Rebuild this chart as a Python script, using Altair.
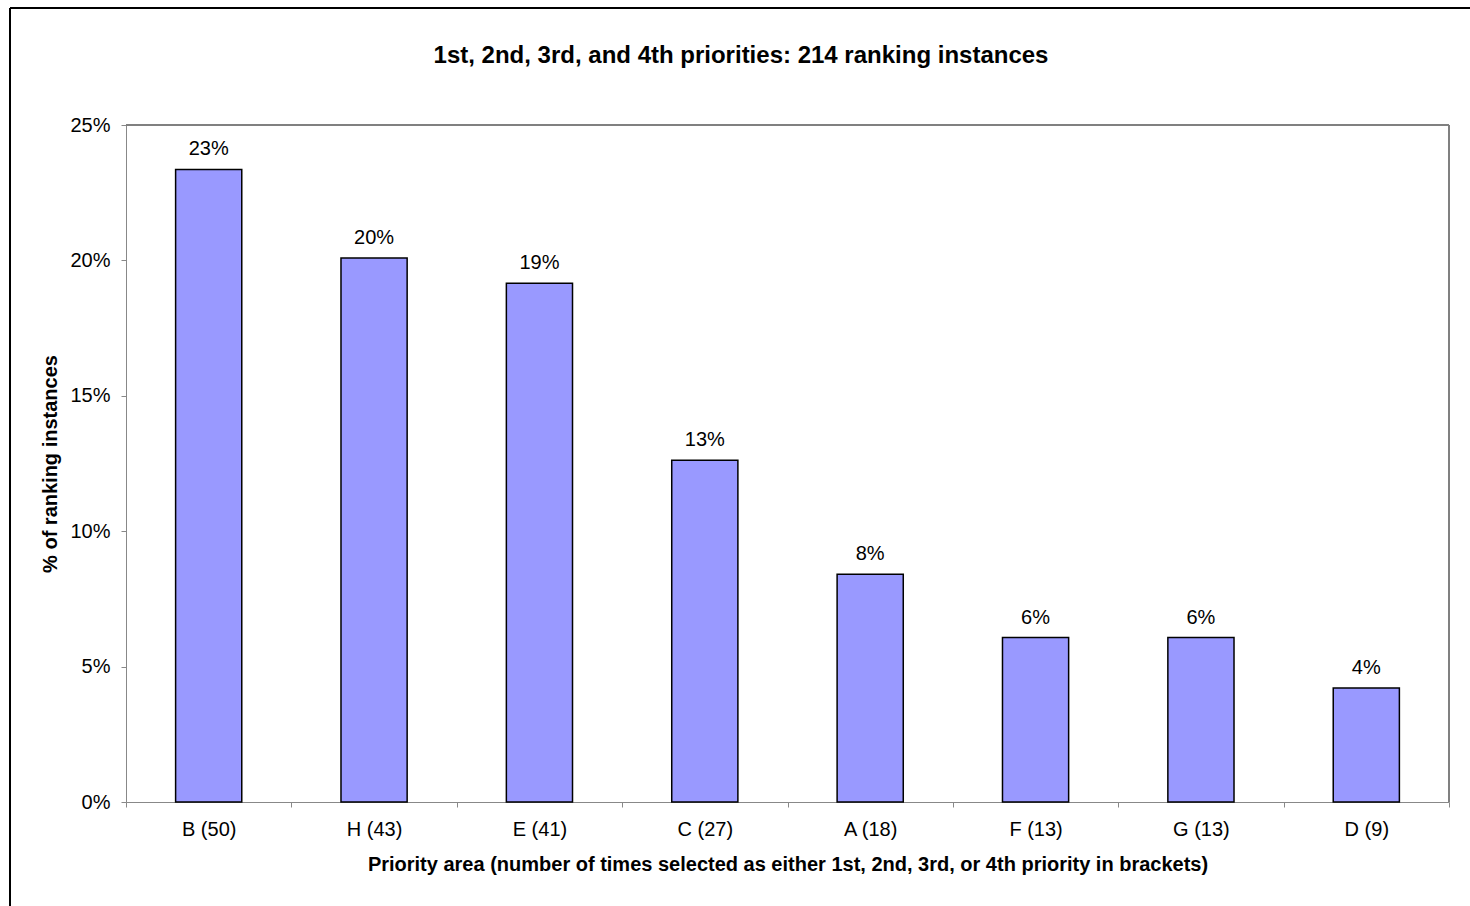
import altair as alt
import pandas as pd

# Priority areas, in ranked order, with counts shown in brackets
categories = ["B (50)", "H (43)", "E (41)", "C (27)", "A (18)", "F (13)", "G (13)", "D (9)"]
# Share of the 214 ranking instances for each area
shares = [0.2336, 0.2009, 0.1916, 0.1262, 0.0841, 0.0607, 0.0607, 0.0421]
chart_title = "1st, 2nd, 3rd, and 4th priorities: 214 ranking instances"

df = pd.DataFrame({"area": categories, "share": shares})

FONT = "Liberation Sans"
PLOT_W = 1323
PLOT_H = 677

x_enc = alt.X(
    "area:N",
    sort=categories,
    scale=alt.Scale(paddingInner=0, paddingOuter=0),
    axis=alt.Axis(
        title="Priority area (number of times selected as either 1st, 2nd, 3rd, or 4th priority in brackets)",
        labelAngle=0,
        tickBand="extent",
        tickSize=5,
        labelPadding=12,
        titlePadding=15,
        labelFontSize=20,
        titleFontSize=20,
    ),
)
y_enc = alt.Y(
    "share:Q",
    scale=alt.Scale(domain=[0, 0.25], nice=False),
    axis=alt.Axis(
        title="% of ranking instances",
        format=".0%",
        values=[0, 0.05, 0.10, 0.15, 0.20, 0.25],
        tickSize=5,
        labelPadding=11,
        titlePadding=9,
        labelFontSize=20,
        titleFontSize=20,
        grid=False,
    ),
)

bars = alt.Chart(df).mark_bar(
    color="#9999FF",
    stroke="#000000",
    strokeWidth=1.5,
    width=alt.RelativeBandSize(0.4),
).encode(x=x_enc, y=y_enc)

labels = alt.Chart(df).mark_text(
    baseline="bottom", dy=-10, fontSize=20, font=FONT, color="#000000"
).encode(
    x=alt.X("area:N", sort=categories),
    y=alt.Y("share:Q"),
    text=alt.Text("share:Q", format=".0%"),
)

# Plot-area border (top and right edges, grey)
plot_top = alt.Chart(df).mark_rule(color="#808080", strokeWidth=2).encode(
    x=alt.value(0), x2=alt.value(PLOT_W), y=alt.value(0)
)
plot_right = alt.Chart(df).mark_rule(color="#808080", strokeWidth=2).encode(
    x=alt.value(PLOT_W), y=alt.value(0), y2=alt.value(PLOT_H)
)

# Outer chart-area border (left and top edges)
frame_left = alt.Chart(df).mark_rule(color="#000000", strokeWidth=1.5).encode(
    x=alt.value(-116), y=alt.value(-117), y2=alt.value(800)
)
frame_top = alt.Chart(df).mark_rule(color="#000000", strokeWidth=1.5).encode(
    x=alt.value(-116), x2=alt.value(1400), y=alt.value(-117)
)

# Chart heading, centred on the whole chart area
heading = alt.Chart(pd.DataFrame({"t": [chart_title]})).mark_text(
    font=FONT, fontSize=24, fontWeight="bold", color="#000000",
    align="center", baseline="middle",
).encode(x=alt.value(615), y=alt.value(-69), text="t:N")

chart = (
    alt.layer(frame_left, frame_top, plot_top, plot_right, bars, labels, heading)
    .properties(
        width=PLOT_W,
        height=PLOT_H,
        padding={"left": 126, "top": 125, "right": 21, "bottom": 104},
        autosize=alt.AutoSizeParams(type="none"),
    )
    .configure_view(stroke="transparent")
    .configure_axis(
        labelFont=FONT,
        titleFont=FONT,
        titleFontWeight="bold",
        labelColor="#000000",
        titleColor="#000000",
        domainColor="#000000",
        tickColor="#000000",
        domainWidth=1.5,
        tickWidth=1,
    )
    .configure(background="#ffffff")
)

chart.save("out.html", embed_options={"renderer": "svg", "actions": False})
